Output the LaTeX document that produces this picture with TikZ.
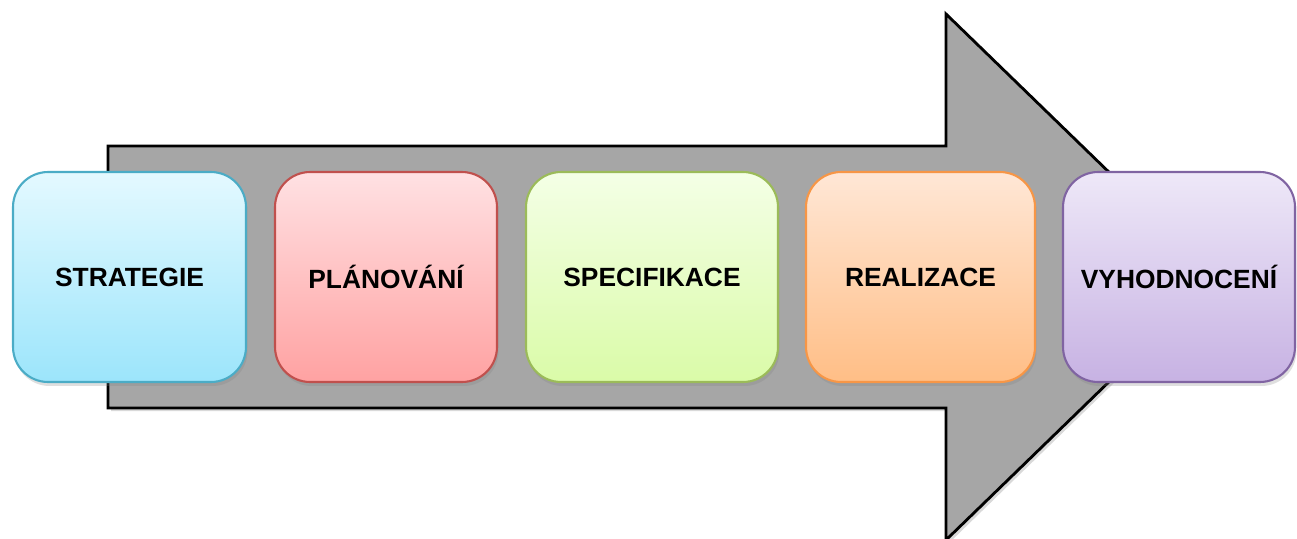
\documentclass[tikz,border=0pt]{standalone}
\usepackage{fontspec}
\setsansfont{Liberation Sans}
\usepackage{tikz}
\usetikzlibrary{shadows}

\definecolor{arrowgray}{HTML}{A6A6A6}
\definecolor{strLine}{HTML}{4BACC6}
\definecolor{strTop}{HTML}{E4F9FF}
\definecolor{strBot}{HTML}{9CE5FB}
\definecolor{plaLine}{HTML}{C0504D}
\definecolor{plaTop}{HTML}{FFE1E3}
\definecolor{plaBot}{HTML}{FFA2A2}
\definecolor{speLine}{HTML}{9BBB59}
\definecolor{speTop}{HTML}{F4FFE6}
\definecolor{speBot}{HTML}{DAFBA8}
\definecolor{reaLine}{HTML}{F79646}
\definecolor{reaTop}{HTML}{FFE7D6}
\definecolor{reaBot}{HTML}{FFBE86}
\definecolor{vyhLine}{HTML}{8064A2}
\definecolor{vyhTop}{HTML}{EEE8F8}
\definecolor{vyhBot}{HTML}{C7B2E3}

\tikzset{
    stage/.style={rounded corners=0.7cm, line width=1.2pt, minimum height=4.2cm,
        font=\sffamily\bfseries\fontsize{15}{18}\selectfont,
        drop shadow={opacity=0.25, shadow xshift=0.03cm, shadow yshift=-0.08cm}},
    shadowed/.style={drop shadow={opacity=0.3, shadow xshift=0.06cm, shadow yshift=-0.06cm}}
}

\begin{document}
\begin{tikzpicture}[x=0.02cm, y=-0.02cm]

            \clip (0,0) rectangle (1297,538);

            % big gray arrow behind the stages
            \filldraw[fill=arrowgray, draw=black, line width=1.6pt, shadowed]
                (108,146) -- (946,146) -- (946,14) -- (1217,277) -- (946,540)
                -- (946,408) -- (108,408) -- cycle;

            \node[stage, minimum width=4.66cm, draw=strLine, top color=strTop, bottom color=strBot] (S) at (129.5,277) {STRATEGIE};
            \node[stage, minimum width=4.44cm, draw=plaLine, top color=plaTop, bottom color=plaBot] (P) at (386,277) {PLÁNOVÁNÍ};
            \node[stage, minimum width=5.04cm, draw=speLine, top color=speTop, bottom color=speBot] (Sp) at (652,277) {SPECIFIKACE};
            \node[stage, minimum width=4.58cm, draw=reaLine, top color=reaTop, bottom color=reaBot] (R) at (920.5,277) {REALIZACE};
            \node[stage, minimum width=4.64cm, draw=vyhLine, top color=vyhTop, bottom color=vyhBot] (V) at (1179,277) {VYHODNOCENÍ};

        \end{tikzpicture}
\end{document}
